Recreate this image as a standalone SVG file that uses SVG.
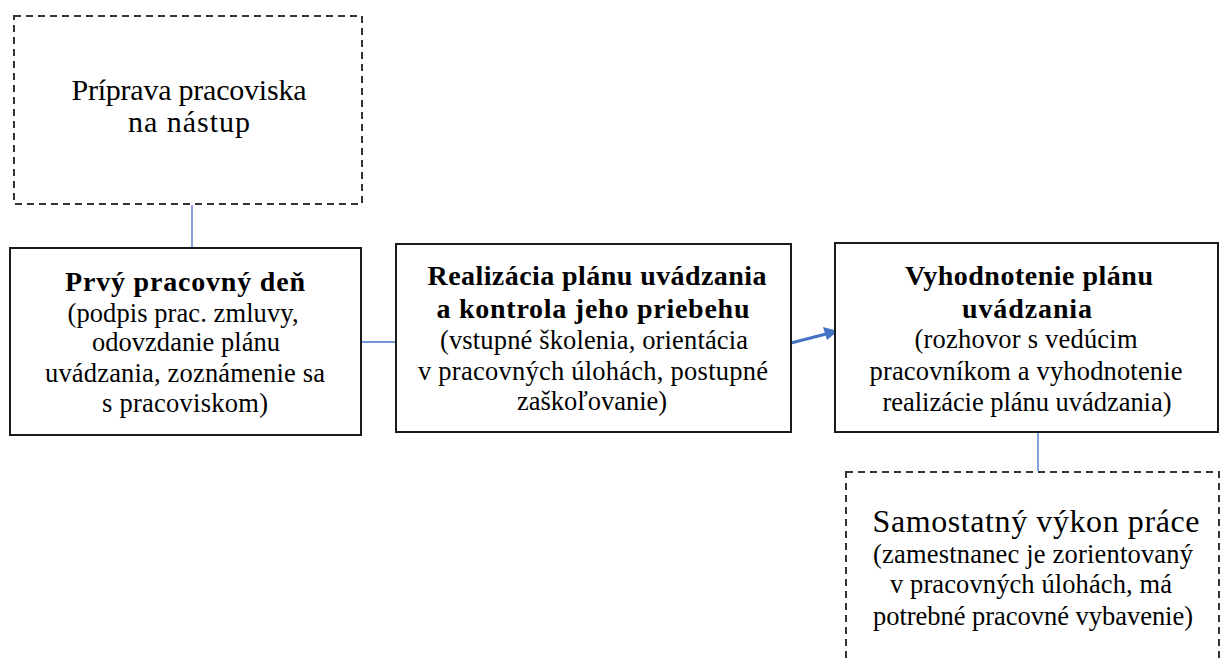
<svg xmlns="http://www.w3.org/2000/svg" width="1222" height="658" viewBox="0 0 1222 658">
<style>
.box{fill:#fff;stroke:#1a1a1a;stroke-width:2}
.dash{fill:#fff;stroke:#333;stroke-width:2;stroke-dasharray:7,5}
text{font-family:'Liberation Serif','DejaVu Serif',serif;fill:#000;text-anchor:middle}
.n{font-size:26.5px}
.b{font-size:28px;font-weight:bold}
.l{font-size:30px}
.xl{font-size:32px}
.c{stroke:#4472c4;stroke-width:1.3;fill:none}
</style>
<g id="connectors">
<line class="c" x1="192" y1="205" x2="192" y2="248"/>
<line class="c" x1="361" y1="342" x2="396" y2="342"/>
<line class="c" x1="1038" y1="432" x2="1038" y2="471"/>
<path d="M791,343 L826,334" stroke="#4472c4" stroke-width="3" fill="none"/>
<path d="M838,331 L823,327 L827,340 Z" fill="#4472c4"/>
</g>
<g id="n1">
<rect class="dash" x="14" y="16" width="348" height="188"/>
<text class="l" x="189" y="100" textLength="235" lengthAdjust="spacing">Príprava pracoviska</text>
<text class="l" x="189" y="132" textLength="122" lengthAdjust="spacing">na nástup</text>
</g>
<g id="n2">
<rect class="box" x="10" y="248" width="351" height="187"/>
<text class="b" x="185" y="291" textLength="240" lengthAdjust="spacing">Prvý pracovný deň</text>
<text class="n" x="183" y="322" textLength="231" lengthAdjust="spacing">(podpis prac. zmluvy,</text>
<text class="n" x="186" y="351" textLength="188" lengthAdjust="spacing">odovzdanie plánu</text>
<text class="n" x="185" y="382" textLength="280" lengthAdjust="spacing">uvádzania, zoznámenie sa</text>
<text class="n" x="185" y="412" textLength="166" lengthAdjust="spacing">s pracoviskom)</text>
</g>
<g id="n3">
<rect class="box" x="396" y="244" width="395" height="188"/>
<text class="b" x="597" y="285" textLength="339" lengthAdjust="spacing">Realizácia plánu uvádzania</text>
<text class="b" x="593" y="318" textLength="313" lengthAdjust="spacing">a kontrola jeho priebehu</text>
<text class="n" x="594" y="349" textLength="308" lengthAdjust="spacing">(vstupné školenia, orientácia</text>
<text class="n" x="593" y="380" textLength="350" lengthAdjust="spacing">v pracovných úlohách, postupné</text>
<text class="n" x="592" y="410" textLength="150" lengthAdjust="spacing">zaškoľovanie)</text>
</g>
<g id="n4">
<rect class="box" x="835" y="243" width="383" height="189"/>
<text class="b" x="1029" y="285" textLength="248" lengthAdjust="spacing">Vyhodnotenie plánu</text>
<text class="b" x="1027" y="318" textLength="130" lengthAdjust="spacing">uvádzania</text>
<text class="n" x="1026" y="348" textLength="223" lengthAdjust="spacing">(rozhovor s vedúcim</text>
<text class="n" x="1026" y="380" textLength="313" lengthAdjust="spacing">pracovníkom a vyhodnotenie</text>
<text class="n" x="1027" y="411" textLength="289" lengthAdjust="spacing">realizácie plánu uvádzania)</text>
</g>
<g id="n5">
<rect class="dash" x="846" y="472" width="373" height="200"/>
<text class="xl" x="1036" y="532" textLength="327" lengthAdjust="spacing">Samostatný výkon práce</text>
<text class="n" x="1033" y="563" textLength="320" lengthAdjust="spacing">(zamestnanec je zorientovaný</text>
<text class="n" x="1031" y="593" textLength="282" lengthAdjust="spacing">v pracovných úlohách, má</text>
<text class="n" x="1033" y="625" textLength="320" lengthAdjust="spacing">potrebné pracovné vybavenie)</text>
</g>
</svg>
